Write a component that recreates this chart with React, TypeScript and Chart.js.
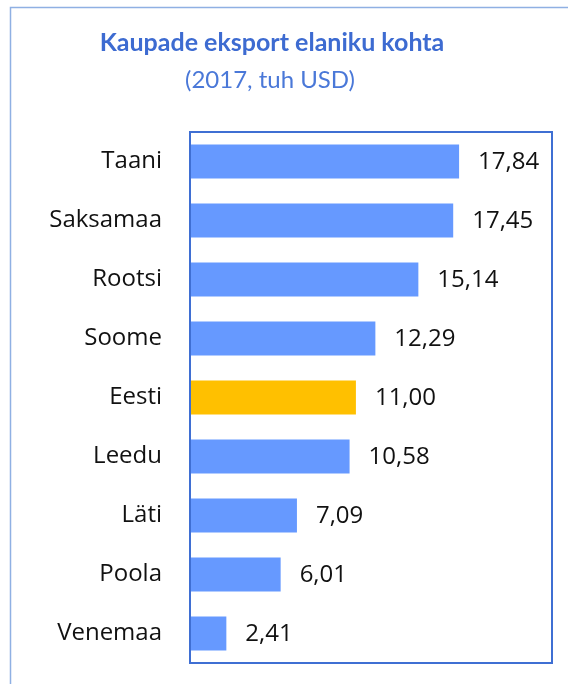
import React, { useEffect, useRef } from "react";
import { Chart, registerables } from "chart.js";

Chart.register(...registerables);

const categories = ["Taani", "Saksamaa", "Rootsi", "Soome", "Eesti", "Leedu", "Läti", "Poola", "Venemaa"];
const values = [17.84, 17.45, 15.14, 12.29, 11.0, 10.58, 7.09, 6.01, 2.41];
const barColors = ["#6699ff", "#6699ff", "#6699ff", "#6699ff", "#ffc000", "#6699ff", "#6699ff", "#6699ff", "#6699ff"];
const titleText = "Kaupade eksport elaniku kohta";
const subtitleText = "(2017, tuh USD)";
const xMin = 0;
const xMax = 24;

const FONT = "'Open Sans', Lato, sans-serif";
const TITLE_FONT = "Lato, 'Open Sans', sans-serif";

const decorPlugin = {
  id: "decor",
  beforeDraw(chart: any) {
    const ctx = chart.ctx;
    ctx.save();
    ctx.fillStyle = "#ffffff";
    ctx.fillRect(0, 0, chart.width, chart.height);
    ctx.strokeStyle = "#8fb0e3";
    ctx.lineWidth = 1.5;
    ctx.strokeRect(10.5, 7.5, chart.width + 20, chart.height + 20);
    ctx.textAlign = "center";
    ctx.textBaseline = "alphabetic";
    ctx.fillStyle = "#3d6bd1";
    ctx.font = "bold 25px " + TITLE_FONT;
    ctx.fillText(titleText, 272, 51);
    ctx.fillStyle = "#4a78d8";
    ctx.font = "24px " + TITLE_FONT;
    ctx.fillText(subtitleText, 270, 88);
    ctx.restore();
  },
  afterDatasetsDraw(chart: any) {
    const ctx = chart.ctx;
    const { left, top, right, bottom } = chart.chartArea;
    ctx.save();
    ctx.strokeStyle = "#3f6fd3";
    ctx.lineWidth = 2;
    ctx.strokeRect(left, top, right - left, bottom - top);
    const meta = chart.getDatasetMeta(0);
    ctx.fillStyle = "#111111";
    ctx.font = "24px " + FONT;
    ctx.textAlign = "left";
    ctx.textBaseline = "middle";
    meta.data.forEach((el: any, i: number) => {
      const v = chart.data.datasets[0].data[i] as number;
      ctx.fillText(v.toFixed(2).replace(".", ","), el.x + 19, el.y + 1);
    });
    ctx.restore();
  },
};

export default function App() {
  const ref = useRef<HTMLCanvasElement>(null);
  useEffect(() => {
    if (!ref.current) return;
    const chart = new Chart(ref.current, {
      type: "bar",
      data: {
        labels: categories,
        datasets: [
          {
            data: values,
            backgroundColor: barColors,
            borderWidth: 0,
            barPercentage: 0.58,
            categoryPercentage: 1,
          },
        ],
      },
      options: {
        indexAxis: "y",
        animation: false,
        responsive: false,
        devicePixelRatio: 1,
        layout: { padding: { left: 0, top: 132, right: 16, bottom: 21 } },
        plugins: { legend: { display: false }, title: { display: false }, tooltip: { enabled: false } },
        scales: {
          x: { display: false, min: xMin, max: xMax },
          y: {
            grid: { display: false, drawTicks: false },
            border: { display: false },
            ticks: { color: "#111111", font: { family: FONT, size: 24 }, padding: 28 },
            afterFit(scale: any) {
              scale.width = 190;
              scale.paddingTop = 0;
              scale.paddingBottom = 0;
            },
          },
        },
      },
      plugins: [decorPlugin],
    });
    return () => chart.destroy();
  }, []);
  return (
    <div style={{ position: "fixed", left: 0, top: 0, width: 568, height: 684, background: "#fff" }}>
      <canvas ref={ref} width={568} height={684} style={{ display: "block", width: 568, height: 684 }} />
    </div>
  );
}
